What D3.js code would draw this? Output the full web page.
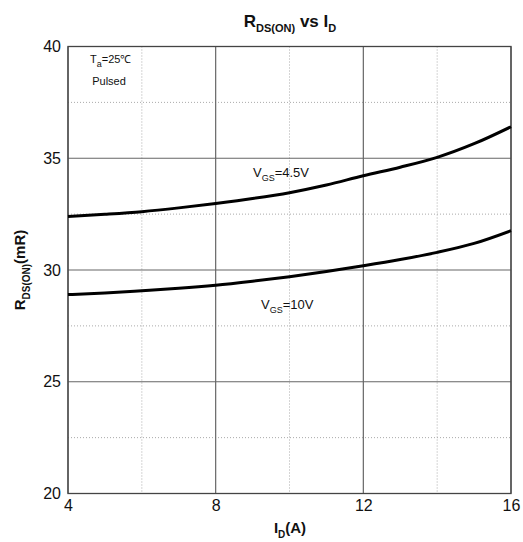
<!DOCTYPE html>
<html><head><meta charset="utf-8">
<script src="https://cdn.jsdelivr.net/npm/d3@7"></script>
<style>body{margin:0;background:#fff}svg{display:block}text{font-family:"Liberation Sans",Arial,sans-serif}</style>
</head><body><svg id="c" width="523" height="542"></svg>
<script>
const idValues = [4, 5, 6, 7, 8, 9, 10, 11, 12, 13, 14, 15, 16];
const rds45 = [32.39, 32.49, 32.61, 32.78, 32.98, 33.2, 33.46, 33.8, 34.22, 34.6, 35.04, 35.65, 36.41];
const rds10 = [28.9, 28.97, 29.07, 29.18, 29.32, 29.5, 29.7, 29.93, 30.19, 30.47, 30.79, 31.19, 31.76];
const xMajorTicks = [4, 8, 12, 16];
const xMinorTicks = [6, 10, 14];
const yMajorTicks = [20, 25, 30, 35, 40];
const yMinorTicks = [22.5, 27.5, 32.5, 37.5];

const svg = d3.select("#c");
const L = 68, R = 511, T = 46.5, B = 493.5;
const x = d3.scaleLinear().domain([4, 16]).range([L, R]);
const y = d3.scaleLinear().domain([20, 40]).range([B, T]);

// minor grid (dotted)
svg.append("g").selectAll("line").data(xMinorTicks).join("line")
  .attr("x1", d => x(d)).attr("x2", d => x(d)).attr("y1", T).attr("y2", B)
  .attr("stroke", "#aaa").attr("stroke-width", 1).attr("stroke-dasharray", "1,2");
svg.append("g").selectAll("line").data(yMinorTicks).join("line")
  .attr("y1", d => y(d)).attr("y2", d => y(d)).attr("x1", L).attr("x2", R)
  .attr("stroke", "#aaa").attr("stroke-width", 1).attr("stroke-dasharray", "1,2");
// major grid
svg.append("g").selectAll("line").data(xMajorTicks).join("line")
  .attr("x1", d => x(d)).attr("x2", d => x(d)).attr("y1", T).attr("y2", B)
  .attr("stroke", "#666").attr("stroke-width", 1.2);
svg.append("g").selectAll("line").data(yMajorTicks).join("line")
  .attr("y1", d => y(d)).attr("y2", d => y(d)).attr("x1", L).attr("x2", R)
  .attr("stroke", "#666").attr("stroke-width", 1.2);
// frame
svg.append("rect").attr("x", L).attr("y", T).attr("width", R - L).attr("height", B - T)
  .attr("fill", "none").attr("stroke", "#444").attr("stroke-width", 1.3);

// axes labels via d3 axes
const xAxis = d3.axisBottom(x).tickValues(xMajorTicks).tickSize(0).tickPadding(6).tickFormat(d3.format("d"));
const gx = svg.append("g").attr("transform", `translate(0,${B})`).call(xAxis);
gx.select(".domain").remove();
gx.selectAll("text").attr("font-size", 16).attr("fill", "#111").style("font-family", "Liberation Sans, Arial");
const yAxis = d3.axisLeft(y).tickValues(yMajorTicks).tickSize(0).tickPadding(7).tickFormat(d3.format("d"));
const gy = svg.append("g").attr("transform", `translate(${L},0)`).call(yAxis);
gy.select(".domain").remove();
gy.selectAll("text").attr("font-size", 16).attr("fill", "#111").style("font-family", "Liberation Sans, Arial");

// curves
const line = d3.line().x((d, i) => x(idValues[i])).y(d => y(d)).curve(d3.curveMonotoneX);
[rds45, rds10].forEach(s => {
  svg.append("path").datum(s).attr("d", line).attr("fill", "none")
    .attr("stroke", "#000").attr("stroke-width", 3);
});

// title
const title = svg.append("text").attr("x", 290).attr("y", 27).attr("text-anchor", "middle")
  .attr("font-size", 17).attr("font-weight", "bold").attr("fill", "#111");
title.append("tspan").text("R");
title.append("tspan").attr("font-size", 11).attr("dy", 5).text("DS(ON)");
title.append("tspan").attr("dy", -5).text(" vs I");
title.append("tspan").attr("font-size", 11).attr("dy", 5).text("D");

// x title
const xt = svg.append("text").attr("x", 290).attr("y", 533).attr("text-anchor", "middle")
  .attr("font-size", 15).attr("font-weight", "bold").attr("fill", "#111");
xt.append("tspan").text("I");
xt.append("tspan").attr("font-size", 10).attr("dy", 5).text("D");
xt.append("tspan").attr("dy", -5).text("(A)");

// y title
const yt = svg.append("text").attr("transform", "translate(25,270) rotate(-90)").attr("text-anchor", "middle")
  .attr("font-size", 15).attr("font-weight", "bold").attr("fill", "#111");
yt.append("tspan").text("R");
yt.append("tspan").attr("font-size", 10).attr("dy", 5).text("DS(ON)");
yt.append("tspan").attr("dy", -5).text("(mR)");

// annotations
const ta = svg.append("text").attr("x", 90).attr("y", 63).attr("font-size", 11).attr("fill", "#111");
ta.append("tspan").text("T");
ta.append("tspan").attr("font-size", 9).attr("dy", 4).text("a");
ta.append("tspan").attr("dy", -4).text("=25℃");
svg.append("text").attr("x", 109).attr("y", 85).attr("text-anchor", "middle").attr("font-size", 11)
  .attr("fill", "#111").text("Pulsed");

function vgs(px, py, val) {
  const t = svg.append("text").attr("x", px).attr("y", py).attr("font-size", 13).attr("fill", "#111");
  t.append("tspan").text("V");
  t.append("tspan").attr("font-size", 9).attr("dy", 4).text("GS");
  t.append("tspan").attr("dy", -4).text("=" + val);
}
vgs(253, 177, "4.5V");
vgs(261, 309, "10V");
</script></body></html>
